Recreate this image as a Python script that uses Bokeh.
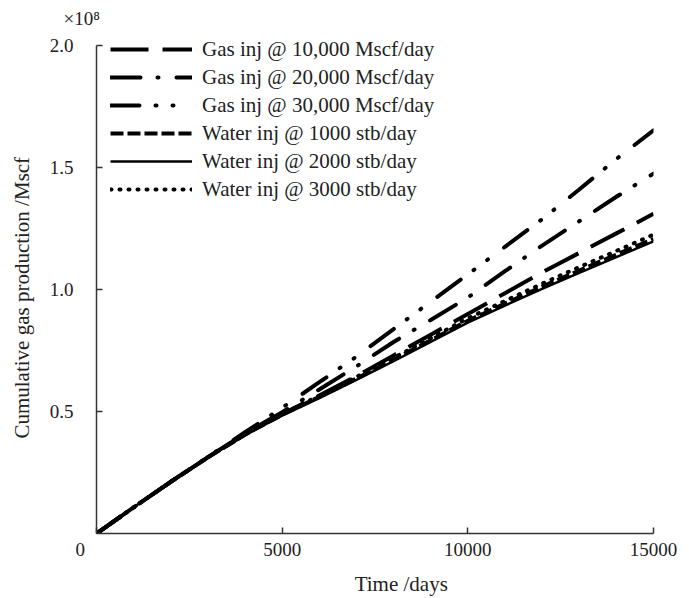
from bokeh.plotting import figure
from bokeh.models import Range1d, FixedTicker, Legend, LegendItem
from bokeh.embed import file_html
from bokeh.resources import INLINE

# Data (cumulative gas production, x10^8 Mscf)
days = [0, 1000, 2000, 3000, 4000, 5000, 6000, 7000, 8000, 9000, 10000,
        11000, 12000, 13000, 14000, 15000]
gas_10000 = [0, 0.107, 0.212, 0.312, 0.407, 0.49, 0.565, 0.645, 0.73, 0.815, 0.90,
             0.985, 1.07, 1.15, 1.23, 1.31]
gas_20000 = [0, 0.107, 0.212, 0.313, 0.41, 0.497, 0.59, 0.685, 0.785, 0.875, 0.967,
             1.075, 1.18, 1.28, 1.38, 1.475]
gas_30000 = [0, 0.107, 0.212, 0.314, 0.415, 0.515, 0.62, 0.725, 0.838, 0.95, 1.062,
             1.175, 1.288, 1.41, 1.535, 1.652]
water_1000 = [0, 0.107, 0.212, 0.312, 0.405, 0.487, 0.56, 0.635, 0.712, 0.792, 0.872,
              0.942, 1.012, 1.078, 1.143, 1.207]
water_2000 = [0, 0.107, 0.212, 0.311, 0.403, 0.483, 0.555, 0.63, 0.706, 0.785, 0.864,
              0.934, 1.003, 1.068, 1.133, 1.197]
water_3000 = [0, 0.107, 0.212, 0.313, 0.407, 0.49, 0.565, 0.642, 0.72, 0.8, 0.882,
              0.953, 1.024, 1.092, 1.158, 1.225]

labels = ["Gas inj @ 10,000 Mscf/day", "Gas inj @ 20,000 Mscf/day",
          "Gas inj @ 30,000 Mscf/day", "Water inj @ 1000 stb/day",
          "Water inj @ 2000 stb/day", "Water inj @ 3000 stb/day"]
x_ticks = [0, 5000, 10000, 15000]
y_ticks = [0.5, 1.0, 1.5, 2.0]

FONT = "Liberation Serif"
FS = "\u2007"  # figure space (kept in SVG), used to nudge text positions

p = figure(width=689, height=598, x_range=Range1d(0, 15000),
           y_range=Range1d(0, 2.0615),
           output_backend="svg", toolbar_location=None,
           min_border_left=96, min_border_right=36, min_border_top=30,
           min_border_bottom=65,
           x_axis_label=FS * 5 + "Time /days",
           y_axis_label="Cumulative gas production /Mscf" + FS * 3)
p.grid.visible = False
p.outline_line_color = None
p.background_fill_color = "white"

p.title.text = "×10⁸"
p.title.align = "left"
p.title.offset = -33
p.title.standoff = 3
p.title.text_font = FONT
p.title.text_font_size = "19px"
p.title.text_font_style = "normal"
p.title.text_color = "#222222"

for ax in (p.xaxis[0], p.yaxis[0]):
    ax.axis_line_color = "#333333"
    ax.axis_line_width = 1.5
    ax.major_tick_line_color = "#333333"
    ax.major_tick_line_width = 1.5
    ax.major_tick_in = 6
    ax.major_tick_out = 0
    ax.minor_tick_line_color = None
    ax.major_label_text_font = FONT
    ax.major_label_text_font_size = "19px"
    ax.major_label_text_color = "#222222"
    ax.axis_label_text_font = FONT
    ax.axis_label_text_font_style = "normal"
    ax.axis_label_text_font_size = "21px"
    ax.axis_label_text_color = "#222222"

p.xaxis[0].ticker = FixedTicker(ticks=x_ticks)
p.xaxis[0].major_label_overrides = {0: "0" + FS * 3 + "\u2009"}
p.xaxis[0].major_label_standoff = 5
p.xaxis[0].axis_label_standoff = 9
p.yaxis[0].ticker = FixedTicker(ticks=y_ticks)
p.yaxis[0].bounds = (0, 2.0)
p.yaxis[0].major_label_overrides = {0.5: "0.5", 1.0: "1.0", 1.5: "1.5", 2.0: "2.0"}
p.yaxis[0].major_label_standoff = 23
p.yaxis[0].axis_label_standoff = 13

r1 = p.line(days, gas_10000, line_color="black", line_width=4, line_dash="38 14",
            line_cap="butt")
r2 = p.line(days, gas_20000, line_color="black", line_width=4, line_dash="30 17 1 18",
            line_cap="round")
r3 = p.line(days, gas_30000, line_color="black", line_width=4,
            line_dash="29 16 1 16 1 20", line_cap="round")
r4 = p.line(days, water_1000, line_color="black", line_width=4, line_dash="13 4",
            line_cap="butt")
r5 = p.line(days, water_2000, line_color="black", line_width=2.5)
r6 = p.line(days, water_3000, line_color="black", line_width=4, line_dash="1 8",
            line_cap="round")

items = [LegendItem(label=lab, renderers=[r]) for lab, r in
         zip(labels, [r1, r2, r3, r4, r5, r6])]
legend = Legend(items=items, location=(14, 330), border_line_color=None,
                background_fill_alpha=0, padding=0, margin=0, spacing=0,
                glyph_width=82, glyph_height=28, label_height=28,
                label_standoff=10, label_text_font=FONT,
                label_text_font_size="21px", label_text_color="#222222")
p.add_layout(legend)

open("out.html", "w").write(file_html(p, INLINE))
